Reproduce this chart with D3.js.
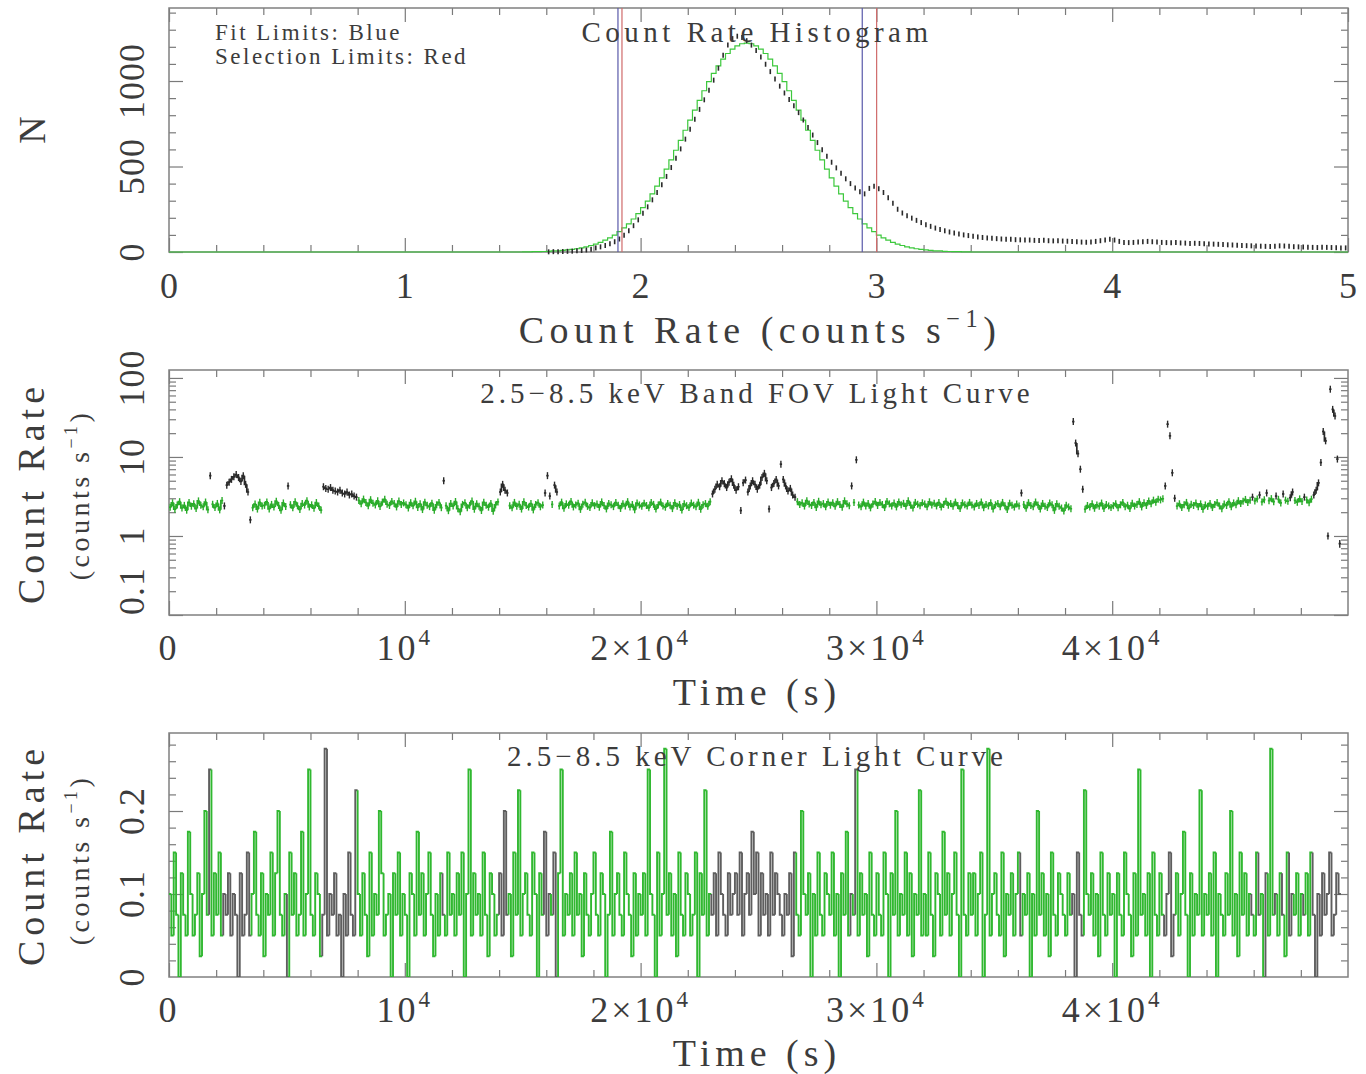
<!DOCTYPE html>
<html>
<head>
<meta charset="utf-8">
<script src="https://cdn.jsdelivr.net/npm/d3@7"></script>
<style>
  body { margin: 0; background: #fff; }
  svg text { font-family: "Liberation Serif", "DejaVu Serif", serif; fill: #3c3c3c; }
</style>
</head>
<body>
<div id="chart"></div>
<script>
// ---- data ----

// count rate histogram (bin width 0.02 c/s), black = data, green = gaussian fit
const histBin = 0.02;
const histStart = 1.60;
const histCounts = [
  1,2,2,3,4,5,7,9,12,16,
  24,30,38,48,60,76,98,124,154,188,
  226,264,305,348,394,442,494,548,603,660,
  718,776,834,890,946,1005,1075,1150,1210,1248,
  1262,1255,1236,1210,1178,1140,1098,1055,1012,970,
  930,892,855,815,772,728,684,640,598,560,
  525,492,460,428,400,375,352,340,372,385,
  370,348,318,285,250,228,212,198,185,172,
  160,150,140,132,124,117,111,105,100,96,
  92,88,85,82,80,78,76,75,74,72,
  71,70,70,68,67,68,66,65,66,64,
  63,62,60,58,57,58,62,66,70,74,
  70,62,56,55,56,58,60,62,60,58,
  56,55,54,55,53,52,50,51,50,48,
  47,46,45,44,42,41,40,38,37,36,
  35,34,33,32,34,36,35,33,31,30,
  29,28,27,26,28,27,26,25,24,24
];
const fitStart = 1.50;
const fitCounts = [
  1,1,2,2,3,4,6,7,9,12,
  15,19,24,30,38,46,56,69,83,99,
  119,141,165,193,225,260,298,340,385,433,
  485,539,595,653,712,771,830,887,943,996,
  1045,1089,1128,1161,1187,1206,1218,1222,
  1218,1206,1187,1161,1128,1089,1045,996,943,887,
  830,771,712,653,595,539,485,433,385,340,
  298,260,225,193,165,141,119,99,83,69,
  56,46,38,30,24,19,15,12,9,7,
  6,4,3,2,2,1,1
];
const fitLimits = [1.904, 2.940];
const selLimits = [1.921, 3.001];

// FOV light curve, 100 s bins (counts/s)
const fovBin = 100;
const fovRate = [
  2.31,2.63,2.18,2.47,2.72,2.26,2.44,2.12,2.66,2.38,2.55,2.22,2.78,2.45,2.34,2.69,2.15,5.80,2.52,2.29,
  2.58,2.14,2.81,2.40,4.40,4.80,5.20,5.60,6.00,5.50,4.90,5.80,4.50,3.60,1.60,2.28,2.53,2.19,2.67,2.39,
  2.44,2.70,2.20,2.51,2.32,2.76,2.43,2.11,2.62,2.36,4.30,2.49,2.27,2.71,2.41,2.17,2.57,2.46,2.80,2.33,
  2.48,2.25,2.65,2.39,2.13,4.20,4.00,3.90,4.10,3.80,3.70,3.60,3.80,3.50,3.40,3.60,3.30,3.40,3.20,3.10,
  2.82,2.55,2.93,2.66,2.41,2.88,2.60,2.47,2.79,2.36,2.68,2.91,2.52,2.43,2.74,2.58,2.33,2.77,2.50,2.62,
  2.49,2.26,2.64,2.41,2.75,2.30,2.55,2.16,2.68,2.44,2.35,2.60,2.12,2.48,2.66,2.28,5.00,2.42,2.09,2.57,
  2.39,2.73,2.21,2.03,2.51,2.63,2.27,2.44,2.77,2.18,2.56,2.37,2.10,2.67,2.45,2.31,2.58,2.06,2.47,2.70,
  3.60,4.50,3.80,3.50,2.42,2.27,2.66,2.38,2.52,2.19,2.71,2.43,2.32,2.57,2.14,2.50,2.64,2.34,2.46,3.50,
  5.80,3.20,2.51,4.40,3.60,2.40,2.68,2.24,2.55,2.45,2.74,2.33,2.47,2.60,2.17,2.52,2.67,2.37,2.29,2.63,
  2.42,2.54,2.31,2.70,2.43,2.20,2.58,2.48,2.35,2.65,2.45,2.23,2.56,2.40,2.72,2.33,2.50,2.15,2.61,2.47,
  2.37,2.60,2.43,2.27,2.66,2.51,2.19,2.47,2.68,2.40,2.31,2.58,2.45,2.22,2.63,2.38,2.50,2.13,2.55,2.42,
  2.29,2.61,2.45,2.35,2.67,2.18,2.48,2.57,2.37,2.72,3.40,3.90,4.50,4.20,5.00,4.60,4.10,4.80,5.30,4.40,
  3.80,4.20,2.10,4.70,5.10,3.60,4.30,5.00,4.50,3.90,4.40,5.50,6.20,5.00,2.20,4.10,4.60,5.20,4.30,8.10,
  5.20,4.30,3.70,4.00,3.30,3.10,2.72,2.50,2.63,2.39,2.80,2.53,2.43,2.66,2.30,2.75,2.48,2.57,2.34,2.70,
  2.45,2.64,2.37,2.72,2.51,2.31,2.79,2.55,2.42,4.30,2.65,9.20,2.47,2.35,2.68,2.40,2.58,2.27,2.53,2.73,
  2.43,2.65,2.50,2.29,2.74,2.55,2.40,2.61,2.33,2.70,2.48,2.59,2.38,2.79,2.45,2.26,2.66,2.52,2.42,2.63,
  2.53,2.34,2.71,2.47,2.60,2.40,2.65,2.32,2.50,2.75,2.45,2.57,2.37,2.68,2.43,2.22,2.62,2.48,2.39,2.66,
  2.47,2.33,2.58,2.43,2.69,2.28,2.51,2.40,2.63,2.20,2.48,2.57,2.35,2.66,2.42,2.16,2.60,2.45,2.32,2.53,
  2.40,3.50,2.50,2.24,2.64,2.43,2.35,2.69,2.47,2.19,2.58,2.38,2.29,2.61,2.48,2.11,2.55,2.37,2.26,2.07,
  2.45,2.33,2.21,28.0,15.0,11.0,7.00,3.90,2.18,2.43,2.32,2.55,2.24,2.47,2.37,2.61,2.22,2.50,2.40,2.29,
  2.42,2.56,2.28,2.48,2.66,2.35,2.45,2.22,2.60,2.39,2.51,2.72,2.33,2.63,2.43,2.78,2.55,2.84,2.68,2.92,
  2.86,2.96,4.30,26.0,18.5,6.30,3.00,2.39,2.56,2.29,2.48,2.66,2.24,2.52,2.43,2.61,2.34,2.55,2.18,2.47,
  2.37,2.58,2.29,2.50,2.65,2.40,2.21,2.54,2.43,2.72,2.34,2.62,2.48,2.80,2.57,2.76,2.90,2.66,2.84,3.10,
  2.78,2.94,3.30,2.70,2.88,3.50,2.80,2.97,2.72,3.20,2.91,2.62,3.40,2.84,2.75,3.05,3.60,2.82,2.67,2.95,
  2.74,3.10,2.86,2.64,2.92,3.30,3.80,4.70,8.50,21.0,16.0,1.00,72.0,40.0,33.0,9.40,0.80
];
// time ranges rejected (flares), seconds
const badIntervals = [[2300, 3500], [6500, 8000], [23000, 26600], [38300, 38800], [42200, 42700], [48600, 49700]];

// corner light curve, same 100 s bins (counts/s)
const cornerRate = [
  0.1,0.05,0.15,0.075,0,0.125,0.075,0.05,0.175,0.1,0.05,0.075,0.125,0.025,0.1,0.2,0.075,0.25,0.05,0.125,
  0.075,0.15,0.05,0.1,0.075,0.125,0.05,0.1,0.075,0,0.125,0.05,0.075,0.15,0.05,0.1,0.175,0.075,0.05,0.125,
  0.025,0.1,0.075,0.15,0.05,0.125,0.2,0.075,0.05,0.1,0,0.15,0.075,0.125,0.05,0.075,0.175,0.05,0.1,0.25,
  0.075,0.05,0.125,0.1,0.025,0.075,0.275,0.05,0.1,0.075,0.125,0.05,0.075,0,0.1,0.05,0.15,0.075,0.05,0.225,
  0.1,0.05,0.125,0.075,0.025,0.15,0.05,0.1,0.075,0.2,0.125,0.05,0.075,0.1,0,0.125,0.075,0.15,0.05,0.1,
  0.075,0,0.125,0.1,0.05,0.175,0.075,0.125,0.05,0.1,0.15,0.075,0.025,0.1,0.05,0.125,0.075,0.05,0.15,0.075,
  0.1,0.05,0.125,0.075,0.15,0,0.1,0.25,0.05,0.125,0.075,0.1,0.05,0.15,0.075,0.025,0.125,0.1,0.05,0.075,
  0.125,0.05,0.2,0.075,0.1,0.025,0.15,0.075,0.225,0.05,0.1,0.125,0.075,0.05,0.15,0.1,0,0.125,0.075,0.175,
  0.05,0.1,0.075,0.15,0,0.125,0.25,0.05,0.1,0.075,0.125,0.05,0.15,0.075,0.1,0.025,0.125,0.075,0.05,0.1,
  0.15,0.075,0.05,0.125,0.1,0,0.075,0.175,0.05,0.1,0.125,0.075,0.05,0.15,0.1,0.075,0.025,0.125,0.05,0.1,
  0.075,0.125,0.05,0.25,0.1,0.075,0,0.15,0.05,0.1,0.275,0.075,0.125,0.05,0.1,0.025,0.15,0.075,0.05,0.125,
  0.1,0.05,0.075,0.15,0,0.125,0.075,0.225,0.05,0.1,0.075,0.125,0.05,0.15,0.1,0.075,0.05,0.125,0.075,0.1,
  0.125,0.075,0.15,0.05,0.1,0.125,0.075,0.175,0.1,0.15,0.05,0.125,0.075,0.1,0.05,0.15,0.075,0.125,0.1,0.075,
  0.05,0.1,0.075,0.125,0.025,0.15,0.075,0.05,0.2,0.1,0.075,0.125,0,0.1,0.05,0.15,0.075,0.05,0.125,0.1,
  0.075,0.15,0.05,0.1,0,0.125,0.075,0.175,0.05,0.1,0.075,0.25,0.05,0.125,0.075,0.1,0.025,0.15,0.075,0.05,
  0.125,0.075,0.05,0.15,0.1,0,0.125,0.075,0.2,0.05,0.1,0.075,0.15,0.05,0.125,0.025,0.1,0.075,0.225,0.05,
  0.1,0.05,0.15,0.075,0.025,0.125,0.1,0.05,0.175,0.075,0.125,0.05,0.1,0.15,0.075,0,0.25,0.075,0.05,0.125,
  0.075,0.125,0.05,0.1,0.15,0,0.075,0.275,0.05,0.1,0.125,0.075,0.05,0.15,0.025,0.1,0.075,0.125,0.05,0.1,
  0.15,0.05,0.1,0.075,0.125,0,0.1,0.05,0.2,0.075,0.125,0.05,0.1,0.025,0.15,0.075,0.05,0.125,0.1,0.075,
  0.05,0.125,0.075,0.1,0,0.15,0.075,0.05,0.225,0.1,0.075,0.125,0.05,0.1,0.025,0.15,0.075,0.05,0.125,0.075,
  0.1,0,0.125,0.075,0.05,0.15,0.1,0.075,0.025,0.125,0.05,0.25,0.075,0.1,0.05,0.125,0,0.15,0.075,0.05,
  0.125,0.075,0.05,0.1,0.15,0.025,0.075,0.125,0.05,0.1,0.175,0.075,0,0.125,0.05,0.1,0.075,0.225,0.05,0.1,
  0.075,0.125,0.05,0.15,0,0.1,0.075,0.05,0.125,0.075,0.2,0.05,0.1,0.025,0.15,0.075,0.125,0.05,0.1,0.075,
  0.05,0.15,0.075,0.1,0,0.125,0.05,0.275,0.075,0.1,0.05,0.125,0.075,0.025,0.15,0.05,0.1,0.075,0.125,0.05,
  0.1,0.075,0.125,0.05,0.15,0.075,0,0.1,0.05,0.125,0.075,0.1,0.15,0.05,0.075,0.125,0.1
];

// axis ticks and labels
const rateTicks = [0, 1, 2, 3, 4, 5];
const timeTicks = [0, 1e4, 2e4, 3e4, 4e4];
const timeTickLabels = ['0', '10{4}', '2×10{4}', '3×10{4}', '4×10{4}'];
const histYTicks = [0, 500, 1000];
const fovYTicks = [0.1, 1, 10, 100];
const cornerYTicks = [0, 0.1, 0.2];

// ---- layout ----
const W = 1366, H = 1074;
const left = 169, right = 1348;
const green = '#3cc83c', greenDark = '#2aac2a', ink = '#2a2a2a', tickCol = '#7a7a7a';

const svg = d3.select('#chart').append('svg').attr('width', W).attr('height', H);

const xRate = d3.scaleLinear([0, 5], [left, right]);
const xTime = d3.scaleLinear([0, 50000], [left, right]);
const yHist = d3.scaleLinear([0, 1427], [252, 8]);
const yFov = d3.scaleLog([0.1, 126], [615, 370]);
const yCorner = d3.scaleLinear([0, 0.294], [977, 733]);

// clip regions for the light curves
const defs = svg.append('defs');
[['clipFov', yFov], ['clipCorner', yCorner]].forEach(([id, y]) => {
  defs.append('clipPath').attr('id', id).append('rect')
    .attr('x', left).attr('y', y.range()[1]).attr('width', right - left).attr('height', y.range()[0] - y.range()[1]);
});

// text with {superscript} parts
function rich(g, str, size, spacing = 0){
  const t = g.append('text').attr('font-size', size).attr('letter-spacing', spacing);
  const parts = str.split(/(\{[^}]*\})/).filter(p => p.length);
  let up = false;
  parts.forEach(p => {
    const sup = p.startsWith('{');
    const s = t.append('tspan').text(sup ? p.slice(1, -1) : p);
    if (sup) { s.attr('font-size', size * 0.64).attr('dy', -size * 0.42); up = true; }
    else if (up) { s.attr('dy', size * 0.42); up = false; }
  });
  return t;
}

// inward ticks on all four sides plus the frame
function frame(x, y, xMajor, xMinor, yMajor, yMinor){
  const g = svg.append('g');
  const [yb, yt] = y.range();
  const [xl, xr] = x.range();
  const add = (axis, tr) => g.append('g').attr('transform', tr).call(axis)
    .call(s => { s.select('.domain').remove(); s.selectAll('line').attr('stroke', tickCol).attr('stroke-width', 1.2); s.selectAll('text').remove(); });
  [[xMajor, 14], [xMinor, 7]].forEach(([v, len]) => {
    add(d3.axisBottom(x).tickValues(v).tickSize(-len), `translate(0,${yb})`);
    add(d3.axisTop(x).tickValues(v).tickSize(-len), `translate(0,${yt})`);
  });
  [[yMajor, 14], [yMinor, 7]].forEach(([v, len]) => {
    add(d3.axisLeft(y).tickValues(v).tickSize(-len), `translate(${xl},0)`);
    add(d3.axisRight(y).tickValues(v).tickSize(-len), `translate(${xr},0)`);
  });
  g.append('rect').attr('x', xl).attr('y', yt).attr('width', xr - xl).attr('height', yb - yt)
    .attr('fill', 'none').attr('stroke', '#808080').attr('stroke-width', 1.5);
}

function yTickLabels(y, ticks, fmt){
  ticks.forEach((v, i) => {
    const atBottom = i === 0 && fmt(v).length > 1;
    svg.append('text').attr('font-size', 36).attr('letter-spacing', 1)
      .attr('text-anchor', atBottom ? 'start' : 'middle')
      .attr('transform', `translate(144,${y(v)})rotate(-90)`).text(fmt(v));
  });
}

function rotLabel(str, x, y, size, spacing){
  rich(svg, str, size, spacing).attr('text-anchor', 'middle').attr('transform', `translate(${x},${y})rotate(-90)`);
}

const minorTime = d3.range(0, 50001, 2000).filter(v => v % 10000);

// ---- panel 1: histogram ----
frame(xRate, yHist, rateTicks, d3.range(0.2, 5, 0.2).filter(v => Math.abs(v - Math.round(v)) > 1e-6),
  [0, 500, 1000], d3.range(100, 1427, 100).filter(v => v % 500));

const fitPts = [[0, 0]].concat(fitCounts.map((c, i) => [fitStart + i * histBin, c]),
  [[fitStart + fitCounts.length * histBin, 0], [5, 0]]);
svg.append('path').datum(fitPts)
  .attr('d', d3.line().x(d => xRate(d[0])).y(d => yHist(d[1])).curve(d3.curveStepAfter))
  .attr('fill', 'none').attr('stroke', green).attr('stroke-width', 1.2);

svg.append('g').selectAll('line').data(histCounts).join('line')
  .attr('x1', (d, i) => xRate(histStart + (i + 0.5) * histBin))
  .attr('x2', (d, i) => xRate(histStart + (i + 0.5) * histBin))
  .attr('y1', d => yHist(d) - 2.5).attr('y2', d => yHist(d) + 2.5)
  .attr('stroke', ink).attr('stroke-width', 1.6);

[[fitLimits, '#5a5aaa'], [selLimits, '#d06a6a']].forEach(([lims, col]) => {
  svg.append('g').selectAll('line').data(lims).join('line')
    .attr('x1', d => xRate(d)).attr('x2', d => xRate(d))
    .attr('y1', yHist.range()[0]).attr('y2', yHist.range()[1])
    .attr('stroke', col).attr('stroke-width', 1.2);
});

rateTicks.forEach(v => svg.append('text').attr('font-size', 36).attr('text-anchor', 'middle')
  .attr('x', xRate(v)).attr('y', 298).text(v));
yTickLabels(yHist, histYTicks, v => String(v));
rich(svg, 'Count Rate Histogram', 29, 4.5).attr('text-anchor', 'middle').attr('x', 757).attr('y', 42);
rich(svg, 'Fit Limits: Blue', 23, 2.5).attr('x', 215).attr('y', 40);
rich(svg, 'Selection Limits: Red', 23, 2.5).attr('x', 215).attr('y', 64);
rich(svg, 'Count Rate (counts s{−1})', 38, 5.5).attr('text-anchor', 'middle').attr('x', 760).attr('y', 343);
rotLabel('N', 45, 130, 38, 0);

// ---- panel 2: FOV light curve ----
const fovMinor = [];
[-1, 0, 1, 2].forEach(k => d3.range(2, 10).forEach(m => { const v = m * 10 ** k; if (v < 126) fovMinor.push(v); }));
frame(xTime, yFov, timeTicks, minorTime, fovYTicks, fovMinor);

const inBad = t => badIntervals.some(([a, b]) => t >= a && t < b);
const fovGood = fovRate.map((v, i) => !inBad(i * fovBin) && v >= selLimits[0] && v <= selLimits[1]);
const fovCol = i => fovGood[i] ? greenDark : ink;

const gF = svg.append('g').attr('clip-path', 'url(#clipFov)');
// step segments, joined to the previous bin when same colour and a small jump
gF.selectAll('path').data(fovRate).join('path')
  .attr('d', (d, i) => {
    const p = fovRate[i - 1];
    const join = i > 0 && fovGood[i] === fovGood[i - 1] && Math.max(p, d) / Math.min(p, d) < 1.4;
    const x0 = xTime(i * fovBin), x1 = xTime((i + 1) * fovBin);
    return join ? `M${x0},${yFov(p)}V${yFov(d)}H${x1}` : `M${x0},${yFov(d)}H${x1}`;
  })
  .attr('fill', 'none').attr('stroke', (d, i) => fovCol(i)).attr('stroke-width', 1.7);
// error bars (at least 7 px tall so they stay visible)
gF.selectAll('line').data(fovRate).join('line')
  .attr('x1', (d, i) => xTime((i + 0.5) * fovBin)).attr('x2', (d, i) => xTime((i + 0.5) * fovBin))
  .attr('y1', d => Math.min(yFov(d + Math.sqrt(d / fovBin)), yFov(d) - 3.5))
  .attr('y2', d => Math.max(yFov(d - Math.sqrt(d / fovBin)), yFov(d) + 3.5))
  .attr('stroke', (d, i) => fovCol(i)).attr('stroke-width', 1.4);

timeTicks.forEach((v, i) => rich(svg, timeTickLabels[i], 36, 3).attr('text-anchor', 'middle').attr('x', xTime(v)).attr('y', 660));
yTickLabels(yFov, fovYTicks, v => String(v));
rich(svg, '2.5−8.5 keV Band FOV Light Curve', 29, 4).attr('text-anchor', 'middle').attr('x', 757).attr('y', 403);
rich(svg, 'Time (s)', 38, 5).attr('text-anchor', 'middle').attr('x', 757).attr('y', 705);
rotLabel('Count Rate', 44, 493, 38, 5);
rotLabel('(counts s{−1})', 89, 495, 28, 3.5);

// ---- panel 3: corner light curve ----
frame(xTime, yCorner, timeTicks, minorTime, [0.1, 0.2], d3.range(0.02, 0.29, 0.02).filter(v => Math.abs(v * 10 - Math.round(v * 10)) > 1e-6));

svg.append('g').attr('clip-path', 'url(#clipCorner)')
  .selectAll('path').data(cornerRate).join('path')
  .attr('d', (d, i) => {
    const prev = i ? cornerRate[i - 1] : d;
    return `M${xTime(i * fovBin)},${yCorner(prev)}V${yCorner(d)}H${xTime((i + 1) * fovBin)}`;
  })
  .attr('fill', 'none').attr('stroke', (d, i) => fovGood[i] ? '#30b830' : '#5e5e5e').attr('stroke-width', 1.9);

timeTicks.forEach((v, i) => rich(svg, timeTickLabels[i], 36, 3).attr('text-anchor', 'middle').attr('x', xTime(v)).attr('y', 1022));
yTickLabels(yCorner, cornerYTicks, v => String(v));
rich(svg, '2.5−8.5 keV Corner Light Curve', 29, 4).attr('text-anchor', 'middle').attr('x', 757).attr('y', 766);
rich(svg, 'Time (s)', 38, 5).attr('text-anchor', 'middle').attr('x', 757).attr('y', 1066);
rotLabel('Count Rate', 44, 855, 38, 5);
rotLabel('(counts s{−1})', 89, 860, 28, 3.5);
</script>
</body>
</html>
